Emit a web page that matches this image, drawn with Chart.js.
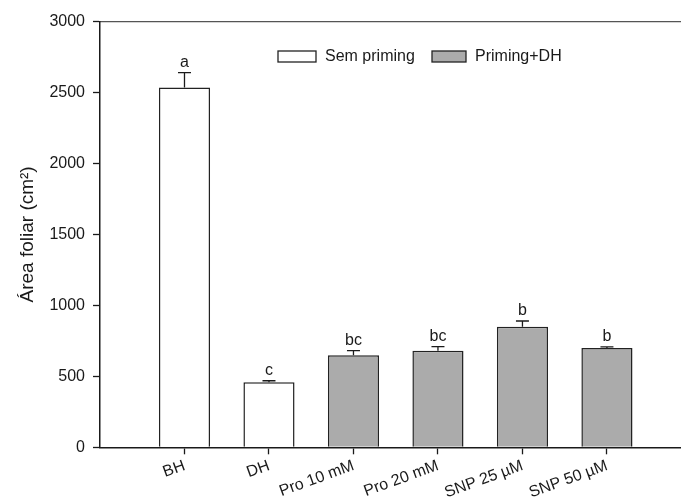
<!DOCTYPE html>
<html>
<head>
<meta charset="utf-8">
<script src="https://cdn.jsdelivr.net/npm/chart.js@4/dist/chart.umd.min.js"></script>
<style>
  html, body { margin: 0; padding: 0; background: #fff; }
  #wrap { width: 681px; height: 497px; overflow: hidden; position: relative; }
  canvas { display: block; }
</style>
</head>
<body>
<div id="wrap"><canvas id="c" width="700" height="497"></canvas></div>
<script>
// Leaf area per treatment
const categories = ['BH', 'DH', 'Pro 10 mM', 'Pro 20 mM', 'SNP 25 µM', 'SNP 50 µM'];
const semPriming = [2535, 458, null, null, null, null];
const primingDH  = [null, null, 648, 681, 850, 700];
const errors     = [105, 11, 33, 28, 40, 7];
const letters    = ['a', 'c', 'bc', 'bc', 'b', 'b'];
const yTicks     = [0, 500, 1000, 1500, 2000, 2500, 3000];

const FONT = '"Liberation Sans", Arial, Helvetica, sans-serif';
const INK = '#1a1a1a';

// empty slots at both ends keep a half-gap before the first and after the last bar
const labels = ['', ...categories, ''];
const pad = arr => [null, ...arr, null];

// error bars (upper whisker) and significance letters
const errorBarPlugin = {
  id: 'errorBars',
  afterDatasetsDraw(chart) {
    const { ctx, scales: { x, y } } = chart;
    ctx.save();
    ctx.strokeStyle = INK;
    ctx.lineWidth = 1.3;
    ctx.fillStyle = INK;
    ctx.font = '16px ' + FONT;
    ctx.textAlign = 'center';
    ctx.textBaseline = 'alphabetic';
    categories.forEach((c, i) => {
      const v = semPriming[i] ?? primingDH[i];
      const px = x.getPixelForValue(i + 1);
      const yv = y.getPixelForValue(v);
      const ye = y.getPixelForValue(v + errors[i]);
      ctx.beginPath();
      ctx.moveTo(px, yv);
      ctx.lineTo(px, ye);
      ctx.moveTo(px - 6.5, ye);
      ctx.lineTo(px + 6.5, ye);
      ctx.stroke();
      ctx.fillText(letters[i], px, ye - 6);
    });
    ctx.restore();
  }
};

// legend drawn inside the plot frame
const innerLegend = {
  id: 'innerLegend',
  afterDraw(chart, args, opts) {
    const { ctx } = chart;
    ctx.save();
    ctx.font = '16px ' + FONT;
    ctx.textBaseline = 'middle';
    ctx.textAlign = 'left';
    chart.data.datasets.forEach((ds, i) => {
      const it = opts.items[i];
      ctx.fillStyle = ds.backgroundColor;
      ctx.fillRect(it.x, opts.y, it.w, opts.h);
      ctx.strokeStyle = ds.borderColor;
      ctx.lineWidth = 1.3;
      ctx.strokeRect(it.x, opts.y, it.w, opts.h);
      ctx.fillStyle = INK;
      ctx.fillText(ds.label, it.x + it.w + 9, opts.y + opts.h / 2);
    });
    ctx.restore();
  }
};

new Chart(document.getElementById('c'), {
  type: 'bar',
  data: {
    labels,
    datasets: [
      {
        label: 'Sem priming',
        data: pad(semPriming),
        backgroundColor: '#ffffff',
        borderColor: '#222222',
        borderWidth: 1.5,
        grouped: false,
        barPercentage: 0.605,
        categoryPercentage: 1
      },
      {
        label: 'Priming+DH',
        data: pad(primingDH),
        backgroundColor: '#ababab',
        borderColor: '#222222',
        borderWidth: 1.5,
        grouped: false,
        barPercentage: 0.605,
        categoryPercentage: 1
      }
    ]
  },
  options: {
    responsive: false,
    devicePixelRatio: 1,
    animation: false,
    layout: { padding: { left: 0, right: 8.5, top: 21.5, bottom: 0 } },
    plugins: {
      legend: { display: false },
      tooltip: { enabled: false },
      innerLegend: {
        y: 51, h: 11,
        items: [{ x: 278, w: 38 }, { x: 432, w: 34 }]
      }
    },
    scales: {
      x: {
        type: 'category',
        offset: false,
        grid: {
          display: true,
          offset: false,
          drawOnChartArea: false,
          drawTicks: true,
          tickLength: 7,
          tickWidth: 1.3,
          tickColor: c => (c.index === 0 || c.index === labels.length - 1) ? 'rgba(0,0,0,0)' : INK
        },
        border: { display: true, color: INK, width: 1.5 },
        ticks: {
          autoSkip: false,
          minRotation: 20,
          maxRotation: 20,
          padding: 2,
          color: INK,
          font: { family: FONT, size: 16 }
        },
        afterFit: s => { s.height = 49.7; }
      },
      xTop: {
        type: 'linear',
        position: 'top',
        display: true,
        min: 0, max: 1,
        grid: { display: false, drawTicks: false },
        ticks: { display: false },
        border: { display: true, color: '#555', width: 1.3 },
        afterFit: s => { s.height = 0; }
      },
      y: {
        min: 0,
        max: 3000,
        afterBuildTicks: s => { s.ticks = yTicks.map(v => ({ value: v })); },
        grid: {
          display: true,
          drawOnChartArea: false,
          drawTicks: true,
          tickLength: 7,
          tickWidth: 1.3,
          tickColor: INK
        },
        border: { display: true, color: INK, width: 1.5 },
        ticks: {
          padding: 8,
          color: INK,
          font: { family: FONT, size: 16 },
          callback: v => String(v)
        },
        title: {
          display: true,
          text: 'Área foliar (cm²)',
          color: INK,
          font: { family: FONT, size: 19 },
          padding: { top: 16, bottom: 0 }
        },
        afterFit: s => { s.width = 100; }
      }
    }
  },
  plugins: [errorBarPlugin, innerLegend]
});
</script>
</body>
</html>
